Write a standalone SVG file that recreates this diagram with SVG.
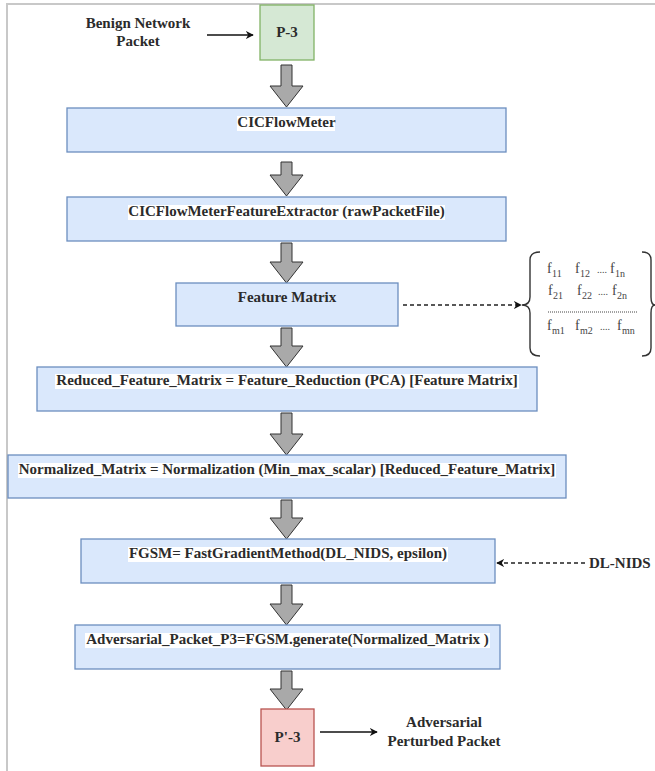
<svg xmlns="http://www.w3.org/2000/svg" width="655" height="771" viewBox="0 0 655 771">
<defs>
<style>
.t{font-family:"Liberation Serif","Times New Roman",serif;font-weight:bold;font-size:15px;fill:#2b2b2b;text-anchor:middle}
.m{font-family:"Liberation Serif","Times New Roman",serif;font-size:14px;fill:#444}
.s{font-family:"Liberation Serif","Times New Roman",serif;font-size:10px;fill:#444}
.box{fill:#dae8fc;stroke:#6c8ebf;stroke-width:1.3}
.bg{fill:#ffffff}
.blk{fill:#a9a9a9;stroke:#333;stroke-width:1}
.ln{fill:none;stroke:#111;stroke-width:1.3}
.dash{fill:none;stroke:#222;stroke-width:1.3;stroke-dasharray:4 3}
.br{fill:none;stroke:#333;stroke-width:1.4}
</style>
<marker id="ah" viewBox="0 0 10 10" refX="9" refY="5" markerWidth="8" markerHeight="8" orient="auto" markerUnits="userSpaceOnUse">
<path d="M0,0 L10,5 L0,10 L3,5 Z" fill="#111"/>
</marker>
</defs>
<g id="frame">
<line x1="6" y1="4" x2="655" y2="4" stroke="#c8c8c8" stroke-width="2"/>
<line x1="7" y1="4" x2="7" y2="771" stroke="#c8c8c8" stroke-width="2"/>
</g>
<g id="connectors">
<line class="ln" x1="207" y1="35" x2="253" y2="35" marker-end="url(#ah)"/>
<path class="blk" d="M281,65 H292 V86 H303 L286.5,107 L270,86 H281 Z"/>
<path class="blk" d="M281,162 H292 V175 H303 L286.5,196 L270,175 H281 Z"/>
<path class="blk" d="M281,243 H292 V262 H303 L286.5,283 L270,262 H281 Z"/>
<path class="blk" d="M281,328 H292 V346 H303 L286.5,367 L270,346 H281 Z"/>
<path class="blk" d="M281,413 H292 V434 H303 L286.5,455 L270,434 H281 Z"/>
<path class="blk" d="M281,500 H292 V518 H303 L286.5,539 L270,518 H281 Z"/>
<path class="blk" d="M281,585 H292 V604 H303 L286.5,625 L270,604 H281 Z"/>
<path class="blk" d="M281,671 H292 V689 H303 L286.5,710 L270,689 H281 Z"/>
<line class="dash" x1="403" y1="305" x2="521" y2="305" marker-end="url(#ah)"/>
<line class="dash" x1="585" y1="563" x2="497" y2="563" stroke-dasharray="3 3" marker-end="url(#ah)"/>
<line class="ln" x1="320" y1="732" x2="377" y2="732" marker-end="url(#ah)"/>
</g>
<g id="benign-label">
<text class="t" x="138" y="28">Benign Network</text>
<text class="t" x="138" y="46">Packet</text>
</g>
<g id="p3">
<rect x="260" y="5" width="54" height="55" fill="#d5e8d4" stroke="#82b366" stroke-width="1.3"/>
<text class="t" x="287" y="37">P-3</text>
</g>
<g id="cicflowmeter">
<rect class="box" x="67" y="108" width="439" height="44"/>
<rect class="bg" x="237" y="116" width="98" height="15"/>
<text class="t" x="286.5" y="127">CICFlowMeter</text>
</g>
<g id="extractor">
<rect class="box" x="67" y="197" width="439" height="44"/>
<rect class="bg" x="128" y="205" width="317" height="15"/>
<text class="t" x="286.5" y="216">CICFlowMeterFeatureExtractor (rawPacketFile)</text>
</g>
<g id="feature-matrix">
<rect class="box" x="176" y="283" width="222" height="43"/>
<text class="t" x="287" y="302">Feature Matrix</text>
</g>
<g id="matrix">
<path class="br" d="M540,252 Q530,252 530,260 V297 Q530,305 522,305 Q530,305 530,313 V348 Q530,356 540,356"/>
<path class="br" d="M642,252 Q651,252 651,260 V297 Q651,305 655,305 Q651,305 651,313 V348 Q651,356 642,356"/>
<text class="m" x="547" y="273">f</text><text class="s" x="552" y="277">11</text>
<text class="m" x="575" y="273">f</text><text class="s" x="580" y="277">12</text>
<text class="s" x="597" y="273">....</text>
<text class="m" x="610" y="273">f</text><text class="s" x="615" y="277">1n</text>
<text class="m" x="548" y="295">f</text><text class="s" x="553" y="299">21</text>
<text class="m" x="577" y="295">f</text><text class="s" x="582" y="299">22</text>
<text class="s" x="598" y="295">....</text>
<text class="m" x="612" y="295">f</text><text class="s" x="617" y="299">2n</text>
<line x1="548" y1="312" x2="638" y2="312" stroke="#444" stroke-width="1" stroke-dasharray="1 1"/>
<text class="m" x="547" y="330">f</text><text class="s" x="552" y="334">m1</text>
<text class="m" x="575" y="330">f</text><text class="s" x="580" y="334">m2</text>
<text class="s" x="600" y="330">....</text>
<text class="m" x="617" y="330">f</text><text class="s" x="622" y="334">mn</text>
</g>
<g id="reduced">
<rect class="box" x="37" y="367" width="500" height="44"/>
<rect class="bg" x="55" y="374" width="464" height="15"/>
<text class="t" x="287" y="385">Reduced_Feature_Matrix = Feature_Reduction (PCA) [Feature Matrix]</text>
</g>
<g id="normalized">
<rect class="box" x="8" y="455" width="558" height="43"/>
<rect class="bg" x="18" y="463" width="538" height="15"/>
<text class="t" x="287" y="474">Normalized_Matrix = Normalization (Min_max_scalar) [Reduced_Feature_Matrix]</text>
</g>
<g id="fgsm">
<rect class="box" x="81" y="539" width="414" height="44"/>
<rect class="bg" x="128" y="547" width="320" height="15"/>
<text class="t" x="288" y="558">FGSM= FastGradientMethod(DL_NIDS, epsilon)</text>
</g>
<g id="dl-nids">
<text class="t" x="589" y="568" style="text-anchor:start">DL-NIDS</text>
</g>
<g id="adversarial">
<rect class="box" x="75" y="625" width="425" height="44"/>
<rect class="bg" x="85" y="633" width="405" height="15"/>
<text class="t" x="287.5" y="644">Adversarial_Packet_P3=FGSM.generate(Normalized_Matrix )</text>
</g>
<g id="p3-prime">
<rect x="261" y="709" width="53" height="57" fill="#f8cecc" stroke="#b85450" stroke-width="1.3"/>
<text class="t" x="287.5" y="742">P'-3</text>
</g>
<g id="adv-label">
<text class="t" x="444" y="727">Adversarial</text>
<text class="t" x="444" y="746">Perturbed Packet</text>
</g>
</svg>
